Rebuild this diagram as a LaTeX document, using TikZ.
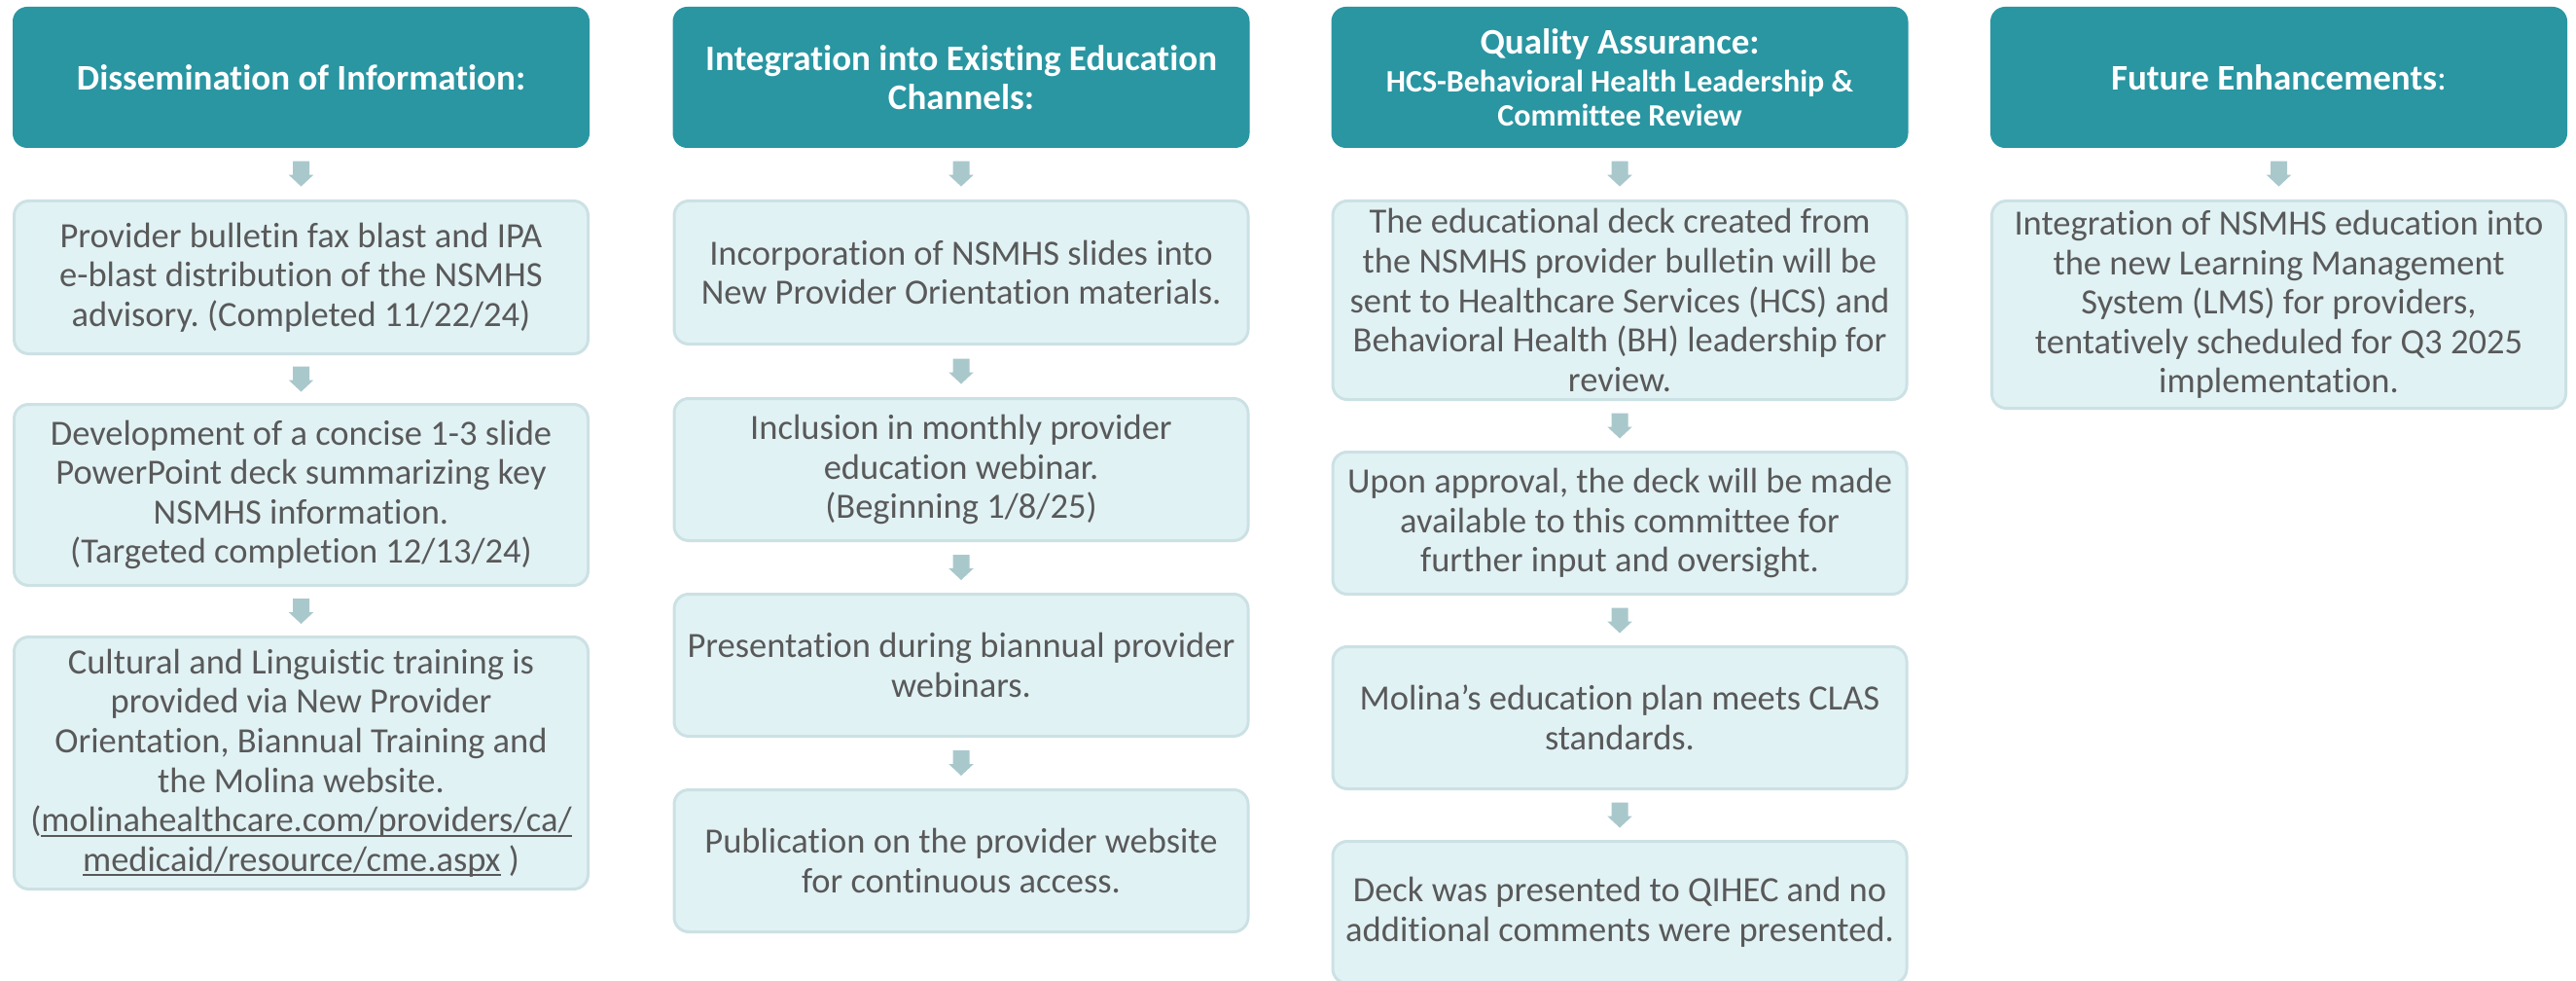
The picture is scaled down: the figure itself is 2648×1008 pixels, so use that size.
\documentclass[tikz,border=0pt]{standalone}
\usepackage{fontspec}
\setmainfont{Carlito}[Ligatures=NoCommon]
\usetikzlibrary{calc}
\frenchspacing

\definecolor{hdrteal}{HTML}{2996A2}
\definecolor{itemfill}{HTML}{E1F2F5}
\definecolor{itemline}{HTML}{CCE1E4}
\definecolor{itemtext}{HTML}{595959}
\definecolor{arrowfill}{HTML}{A9C8CC}

% underline sitting just under the baseline, crossing descenders
\newcommand\linkul[1]{\setbox0=\hbox{#1}\rlap{\rule[-5pt]{\wd0}{2pt}}\box0}

% block arrow centred in the gap between two stacked boxes
\newcommand\flowdown[2]{%
  \fill[arrowfill] ($(#1.south)!0.5!(#2.north)$) ++(-8.5,-13) -- ++(17,0) -- ++(0,14)
    -- ++(4.3,0) -- ++(-12.8,12) -- ++(-12.8,-12) -- ++(4.3,0) -- cycle;}

\tikzset{
  hdr/.style={rounded corners=15pt, fill=hdrteal, text=white,
    font=\bfseries\fontsize{37}{40.6}\selectfont, minimum width=593pt,
    minimum height=145pt, align=center, inner sep=2pt},
  item/.style={rounded corners=15pt, fill=itemfill, draw=itemline, line width=3pt,
    text=itemtext, font=\fontsize{36.5}{40.6}\selectfont, minimum width=590pt,
    align=center, inner sep=2pt},
}

\begin{document}
\begin{tikzpicture}[x=1pt,y=-1pt]
\useasboundingbox (0,0) rectangle (2648,1008);
\clip (0,0) rectangle (2648,1008);
\fill[white] (0,0) rectangle (2648,1008);

% ---- column 1
\node[hdr] (h1) at (309.5,79.5) {Dissemination of Information:};
\node[item, minimum height=157pt] (b11) at (309.5,285)
  {Provider bulletin fax blast and IPA\\e-blast distribution of the NSMHS\\advisory. (Completed 11/22/24)};
\node[item, minimum height=186pt] (b12) at (309.5,508.5)
  {Development of a concise 1-3 slide\\PowerPoint deck summarizing key\\NSMHS information.\\(Targeted completion 12/13/24)};
\node[item, minimum height=259pt] (b13) at (309.5,784)
  {Cultural and Linguistic training is\\provided via New Provider\\Orientation, Biannual Training and\\the Molina website.\\(\linkul{molinahealthcare.com/providers/ca/}\\\linkul{medicaid/resource/cme.aspx}\ )};
\flowdown{h1}{b11}
\flowdown{b11}{b12}
\flowdown{b12}{b13}

% ---- column 2
\node[hdr] (h2) at (988,79.5) {Integration into Existing Education\\Channels:};
\node[item, minimum height=147pt] (b21) at (988,280)
  {Incorporation of NSMHS slides into\\New Provider Orientation materials.};
\node[item, minimum height=146pt] (b22) at (988,482.5)
  {Inclusion in monthly provider\\education webinar.\\(Beginning 1/8/25)};
\node[item, minimum height=146pt] (b23) at (988,683.5)
  {Presentation during biannual provider\\webinars.};
\node[item, minimum height=146pt] (b24) at (988,884.5)
  {Publication on the provider website\\for continuous access.};
\flowdown{h2}{b21}
\flowdown{b21}{b22}
\flowdown{b22}{b23}
\flowdown{b23}{b24}

% ---- column 3
\node[hdr, font=\bfseries\fontsize{32}{35}\selectfont] (h3) at (1665,79.5)
  {{\fontsize{37}{40.6}\selectfont Quality Assurance:}\\[4pt]HCS-Behavioral Health Leadership \&\\Committee Review};
\node[item, minimum height=204pt] (b31) at (1665,308.5)
  {The educational deck created from\\the NSMHS provider bulletin will be\\sent to Healthcare Services (HCS) and\\Behavioral Health (BH) leadership for\\review.};
\node[item, minimum height=146pt] (b32) at (1665,537.5)
  {Upon approval, the deck will be made\\available to this committee for\\further input and oversight.};
\node[item, minimum height=146pt] (b33) at (1665,737.5)
  {Molina’s education plan meets CLAS\\standards.};
\node[item, minimum height=146pt] (b34) at (1665,937.5)
  {Deck was presented to QIHEC and no\\additional comments were presented.};
\flowdown{h3}{b31}
\flowdown{b31}{b32}
\flowdown{b32}{b33}
\flowdown{b33}{b34}

% ---- column 4
\node[hdr] (h4) at (2342.5,79.5) {Future Enhancements{\mdseries :}};
\node[item, minimum height=213pt] (b41) at (2342.5,313)
  {Integration of NSMHS education into\\the new Learning Management\\System (LMS) for providers,\\tentatively scheduled for Q3 2025\\implementation.};
\flowdown{h4}{b41}
\end{tikzpicture}
\end{document}
